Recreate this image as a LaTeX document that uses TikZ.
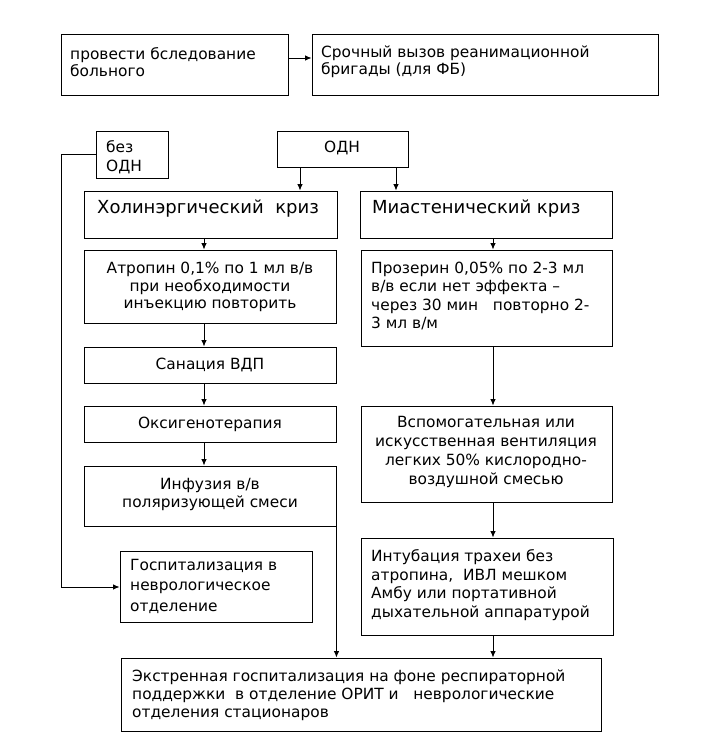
\documentclass[tikz,border=0pt]{standalone}
\usepackage{fontspec}
\setmainfont{DejaVu Sans}
\usetikzlibrary{fit,arrows.meta}
\begin{document}
\begin{tikzpicture}[x=1pt,y=-1pt,
  box/.style={draw, line width=0.9pt, inner sep=0pt},
  txt/.style={inner sep=0pt, font=\fontsize{15.4}{17.5}\selectfont},
  head/.style={inner sep=0pt, font=\fontsize{18}{21}\selectfont},
  arr/.style={line width=0.9pt, -{Latex[length=6.5pt,width=5.5pt]}},
  ln/.style={line width=0.9pt}]
\useasboundingbox[fill=white] (0,0) rectangle (705,754);

% boxes
\node[box, fit={(61,34) (288,95)}] (b1) {};
\node[box, fit={(312,34) (658,95)}] (b2) {};
\node[box, fit={(96,131) (168,178)}] (bez) {};
\node[box, fit={(277,131) (408,167)}] (odn) {};
\node[box, fit={(84,191) (337,238)}] (hol) {};
\node[box, fit={(360,191) (612,238)}] (mia) {};
\node[box, fit={(84,250) (336,323)}] (atr) {};
\node[box, fit={(84,347) (336,383)}] (san) {};
\node[box, fit={(84,406) (336,442)}] (oxy) {};
\node[box, fit={(84,466) (336,526)}] (inf) {};
\node[box, fit={(361,250) (612,346)}] (pro) {};
\node[box, fit={(361,406) (612,502)}] (vsp) {};
\node[box, fit={(361,538) (613,635)}] (int) {};
\node[box, fit={(120,551) (312,622)}] (gos) {};
\node[box, fit={(121,658) (601,731)}] (ext) {};

% texts
\node[txt, anchor=west, align=left, font=\fontsize{15.4}{16.5}\selectfont] (t1) at (70,62) {провести бследование\\больного};
\node[txt, anchor=west, align=left, font=\fontsize{15.4}{16.5}\selectfont] (t2) at (321,62) {Срочный вызов реанимационной\\бригады (для ФБ)};
\node[txt, anchor=west, align=left, font=\fontsize{15.4}{19}\selectfont] (tbez) at (106,157) {без\\ОДН};
\node[txt] (todn) at (342,148) {ОДН};
\node[head, anchor=west] (thol) at (97,209) {Холинэргический\ \ криз};
\node[head, anchor=west] (tmia) at (372,209) {Миастенический криз};
\node[txt, align=center] (tatr) at (210,287) {Атропин 0,1\% по 1 мл в/в\\при необходимости\\инъекцию повторить};
\node[txt] (tsan) at (210,365) {Санация ВДП};
\node[txt] (toxy) at (210,424) {Оксигенотерапия};
\node[txt, align=center, font=\fontsize{15.4}{18}\selectfont] (tinf) at (210,494) {Инфузия в/в\\поляризующей смеси};
\node[txt, anchor=west, align=left, font=\fontsize{15.4}{18.5}\selectfont] (tpro) at (371,296) {Прозерин 0,05\% по 2-3 мл\\в/в если нет эффекта –\\через 30 мин\ \ \ повторно 2-\\3 мл в/м};
\node[txt, align=center, font=\fontsize{15.4}{19.3}\selectfont] (tvsp) at (486,452) {Вспомогательная или\\искусственная вентиляция\\легких 50\% кислородно-\\воздушной смесью};
\node[txt, anchor=west, align=left, font=\fontsize{15.4}{18.7}\selectfont] (tint) at (371,585) {Интубация трахеи без\\атропина,\ \ ИВЛ мешком\\Амбу или портативной\\дыхательной аппаратурой};
\node[txt, anchor=west, align=left, font=\fontsize{15.4}{20.5}\selectfont] (tgos) at (130,586) {Госпитализация в\\неврологическое\\отделение};
\node[txt, anchor=west, align=left, font=\fontsize{15.4}{18}\selectfont] (text) at (132,695) {Экстренная госпитализация на фоне респираторной\\поддержки\ \ в отделение ОРИТ и\ \ \ неврологические\\отделения стационаров};

% column coordinates
\coordinate (cl) at (204,0);
\coordinate (cr) at (493,0);
\coordinate (o1) at (300,0);
\coordinate (o2) at (396,0);
\coordinate (ly) at (61,154);
\coordinate (gy) at (61,587);

% connectors
\draw[arr] (b1.east |- 0,58) -- (b2.west |- 0,58);
\draw[arr] (odn.south -| o1) -- (hol.north -| o1);
\draw[arr] (odn.south -| o2) -- (mia.north -| o2);
\draw[arr] (hol.south -| cl) -- (atr.north -| cl);
\draw[arr] (atr.south -| cl) -- (san.north -| cl);
\draw[arr] (san.south -| cl) -- (oxy.north -| cl);
\draw[arr] (oxy.south -| cl) -- (inf.north -| cl);
\draw[arr] (mia.south -| cr) -- (pro.north -| cr);
\draw[arr] (pro.south -| cr) -- (vsp.north -| cr);
\draw[arr] (vsp.south -| cr) -- (int.north -| cr);
\draw[arr] (int.south -| cr) -- (ext.north -| cr);
\draw[arr] (inf.south east) -- (inf.south east |- ext.north);
\draw[arr] (bez.west |- ly) -- (ly) -- (gy) -- (gos.west |- gy);
\end{tikzpicture}
\end{document}
